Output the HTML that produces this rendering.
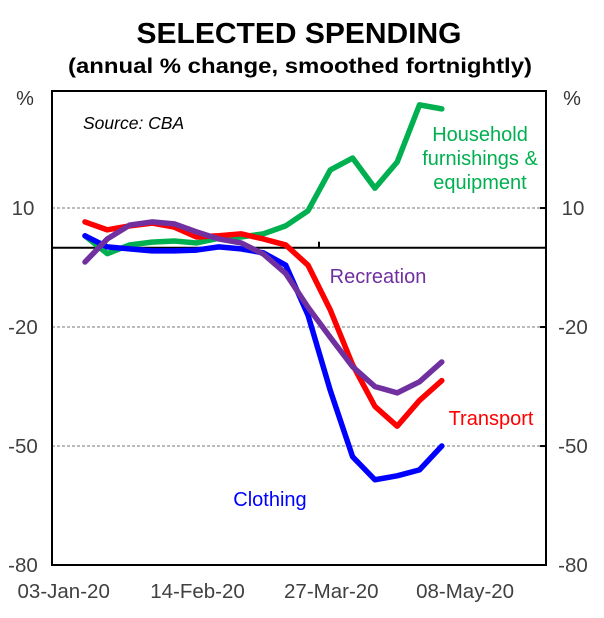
<!DOCTYPE html>
<html><head><meta charset="utf-8"><style>
body{margin:0;background:#fff}
svg{display:block}
text{font-family:"Liberation Sans",Arial,sans-serif}
</style></head><body>
<svg id="chart" width="604" height="618" viewBox="0 0 604 618">
<text x="299" y="43" font-size="29" font-weight="bold" text-anchor="middle" textLength="325" lengthAdjust="spacingAndGlyphs">SELECTED SPENDING</text>
<text x="300" y="73" font-size="21" font-weight="bold" text-anchor="middle" textLength="464" lengthAdjust="spacingAndGlyphs">(annual % change, smoothed fortnightly)</text>
<text x="25" y="105" font-size="20" text-anchor="middle" fill="#333">%</text>
<text x="572" y="105" font-size="20" text-anchor="middle" fill="#333">%</text>
<g id="grid"></g>
<g id="lines"></g>
<rect x="52" y="91" width="494" height="474" fill="none" stroke="#000" stroke-width="2"/>
<g id="labels"></g>
<text x="83" y="129" font-size="17.5" font-style="italic">Source: CBA</text>
<text text-anchor="middle" font-size="20" fill="#00B050"><tspan x="480" y="141">Household</tspan><tspan x="480" y="165">furnishings &amp;</tspan><tspan x="480" y="189">equipment</tspan></text>
<text x="378" y="283" font-size="20" text-anchor="middle" fill="#7030A0">Recreation</text>
<text x="491" y="425" font-size="20" text-anchor="middle" fill="#FF0000">Transport</text>
<text x="270" y="506" font-size="20" text-anchor="middle" fill="#0000FF">Clothing</text>
</svg>
<script>
const weeks = [0,1,2,3,4,5,6,7,8,9,10,11,12,13,14,15,16];
const household = [3,-1.5,0.7,1.4,1.7,1.2,2.4,2.7,3.5,5.5,9.3,19.6,22.6,15,21.6,36,35];
const transport = [6.5,4.5,5.5,6.2,5.2,2.7,3,3.5,2.2,0.7,-4.4,-15.7,-29.5,-40,-45,-38.5,-33.5];
const clothing = [3,0.2,-0.3,-0.8,-0.8,-0.6,0.2,-0.3,-1.3,-4.4,-17,-36,-52.7,-58.5,-57.5,-56,-50];
const recreation = [-3.6,2.2,5.7,6.5,6,4,2.2,1.2,-1.6,-6.5,-15,-22.6,-30,-35,-36.6,-33.8,-28.8];
const yTicks = [10,-20,-50,-80];
const xTickLabels = ["03-Jan-20","14-Feb-20","27-Mar-20","08-May-20"];
const xTickWeeks = [-1,5,11,17];

const NS="http://www.w3.org/2000/svg";
function yS(v){return 247.7-(v*3.967);}
function xS(w){return 85+w*22.3;}
function mk(tag,attrs,parent){const e=document.createElementNS(NS,tag);for(const k in attrs)e.setAttribute(k,attrs[k]);parent.appendChild(e);return e;}
const grid=document.getElementById('grid'),lines=document.getElementById('lines'),labels=document.getElementById('labels');
yTicks.forEach(v=>{
  if(v>-80){
    const g=mk('line',{x1:52,x2:546,y1:yS(v),y2:yS(v),stroke:'#777','stroke-width':1,'stroke-dasharray':'3,2'},grid);
    
    
    const t1=mk('line',{x1:540,x2:546,y1:yS(v),y2:yS(v),stroke:'#000','stroke-width':2},grid);
    
    
  }
  const l=mk('text',{x:23,y:yS(v)+7,'font-size':20.5,'text-anchor':'middle',fill:'#404040'},labels);
  l.textContent=v;
  
  
  const r=mk('text',{x:573,y:yS(v)+7,'font-size':20.5,'text-anchor':'middle',fill:'#404040'},labels);
  r.textContent=v;
  
  
});
const zl=mk('line',{x1:52,x2:546,y1:yS(0),y2:yS(0),stroke:'#000','stroke-width':2},grid);


const zt=mk('line',{x1:319,x2:319,y1:yS(0)-6,y2:yS(0),stroke:'#000','stroke-width':2},grid);


xTickLabels.forEach((s,i)=>{
  const t=mk('text',{x:xS(xTickWeeks[i])+1,y:598,'font-size':20.5,'text-anchor':'middle',fill:'#404040'},labels);
  t.textContent=s;
  
  
});
function series(vals,color,name){
  const p=mk('polyline',{points:vals.map((v,i)=>xS(weeks[i])+','+yS(v)).join(' '),fill:'none',stroke:color,'stroke-width':5.5,'stroke-linejoin':'round','stroke-linecap':'round'},lines);
  
  
}
series(household,'#00B050','household-line');
series(transport,'#FF0000','transport-line');
series(clothing,'#0000FF','clothing-line');
series(recreation,'#7030A0','recreation-line');
</script>
</body></html>
